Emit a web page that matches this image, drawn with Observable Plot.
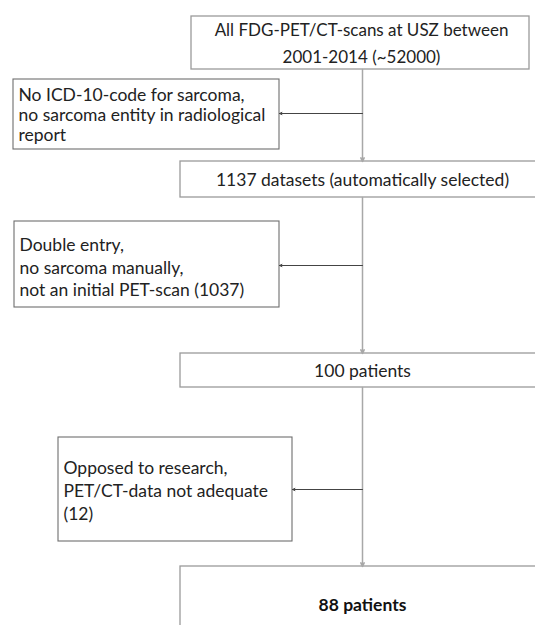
<!DOCTYPE html>
<html>
<head>
<meta charset="utf-8">
<script src="https://cdn.jsdelivr.net/npm/d3@7"></script>
<script src="https://cdn.jsdelivr.net/npm/@observablehq/plot@0.6"></script>
<style>
  html, body { margin: 0; padding: 0; background: #fff; }
  #chart svg { display: block; }
</style>
</head>
<body>
<div id="chart"></div>
<script>
// Flowchart boxes (chart units = pixels of the 535x625 canvas)
const mainBoxes = [
  {id: "all",   x1: 191, x2: 529, y1: 16,  y2: 69,  label: "All FDG-PET/CT-scans at USZ between\n2001-2014 (~52000)"},
  {id: "auto",  x1: 180, x2: 545, y1: 161, y2: 197, label: "1137 datasets (automatically selected)"},
  {id: "p100",  x1: 180, x2: 545, y1: 353, y2: 387, label: "100 patients"},
  {id: "p88",   x1: 180, x2: 545, y1: 566, y2: 640, label: "88 patients"}
];
const sideBoxes = [
  {id: "ex1", x1: 13, x2: 279, y1: 79,  y2: 149, label: "No ICD-10-code for sarcoma,\nno sarcoma entity in radiological\nreport"},
  {id: "ex2", x1: 14, x2: 279, y1: 221, y2: 307, label: "Double entry,\nno sarcoma manually,\nnot an initial PET-scan (1037)"},
  {id: "ex3", x1: 58, x2: 292, y1: 437, y2: 541, label: "Opposed to research,\nPET/CT-data not adequate\n(12)"}
];
// Flow connectors
const spineX = 362;
const downArrows = [
  {from: "all",  to: "auto"},
  {from: "auto", to: "p100"},
  {from: "p100", to: "p88"}
];
const sideArrows = [
  {to: "ex1", y: 113},
  {to: "ex2", y: 265},
  {to: "ex3", y: 489}
];

const byId = Object.fromEntries([...mainBoxes, ...sideBoxes].map(d => [d.id, d]));
const downs = downArrows.map(d => ({x: spineX, y1: byId[d.from].y2, y2: byId[d.to].y1}));
const sides = sideArrows.map(d => ({x1: spineX, x2: byId[d.to].x2, y: d.y}));

const font = "Lato, 'Open Sans', sans-serif";
const fs = 17.5;

const chart = Plot.plot({
  width: 535,
  height: 625,
  margin: 0,
  x: {domain: [0, 535], range: [0, 535], axis: null},
  y: {domain: [0, 625], range: [0, 625], axis: null},
  style: {fontFamily: font, background: "#fff"},
  marks: [
    Plot.rect(mainBoxes, {x1: "x1", x2: "x2", y1: "y1", y2: "y2", fill: "#fff", stroke: "#9a9a9a", strokeWidth: 1.3}),
    Plot.rect(sideBoxes, {x1: "x1", x2: "x2", y1: "y1", y2: "y2", fill: "#fff", stroke: "#6e6e6e", strokeWidth: 1.1}),
    Plot.arrow(downs, {x1: "x", x2: "x", y1: "y1", y2: "y2", stroke: "#a8a8a8", strokeWidth: 1.5, headLength: 4, headAngle: 50}),
    Plot.arrow(sides, {x1: "x1", x2: "x2", y1: "y", y2: "y", stroke: "#444", strokeWidth: 1, headLength: 4, headAngle: 50}),
    Plot.text(mainBoxes.filter(d => d.id === "all"), {x: 361, y: d => (d.y1 + d.y2) / 2 - 2, text: "label", fontSize: 17, lineHeight: 1.55, fill: "#222", textAnchor: "middle"}),
    Plot.text(mainBoxes.filter(d => d.id === "auto" || d.id === "p100"), {x: spineX, y: d => (d.y1 + d.y2) / 2 + 1, text: "label", fontSize: fs, fill: "#222", textAnchor: "middle"}),
    Plot.text(mainBoxes.filter(d => d.id === "p88"), {x: spineX, y: 605, text: "label", fontSize: fs, fontWeight: "bold", fill: "#111", textAnchor: "middle"}),
    Plot.text(sideBoxes.filter(d => d.id === "ex1"), {x: d => d.x1 + 5, y: d => (d.y1 + d.y2) / 2, text: "label", fontSize: fs, lineHeight: 1.14, fill: "#222", textAnchor: "start"}),
    Plot.text(sideBoxes.filter(d => d.id === "ex2"), {x: d => d.x1 + 5, y: d => (d.y1 + d.y2) / 2 + 2, text: "label", fontSize: fs, lineHeight: 1.28, fill: "#222", textAnchor: "start"}),
    Plot.text(sideBoxes.filter(d => d.id === "ex3"), {x: d => d.x1 + 5, y: d => (d.y1 + d.y2) / 2, text: "label", fontSize: fs, lineHeight: 1.33, fill: "#222", textAnchor: "start"})
  ]
});
document.getElementById("chart").appendChild(chart);
</script>
</body>
</html>
